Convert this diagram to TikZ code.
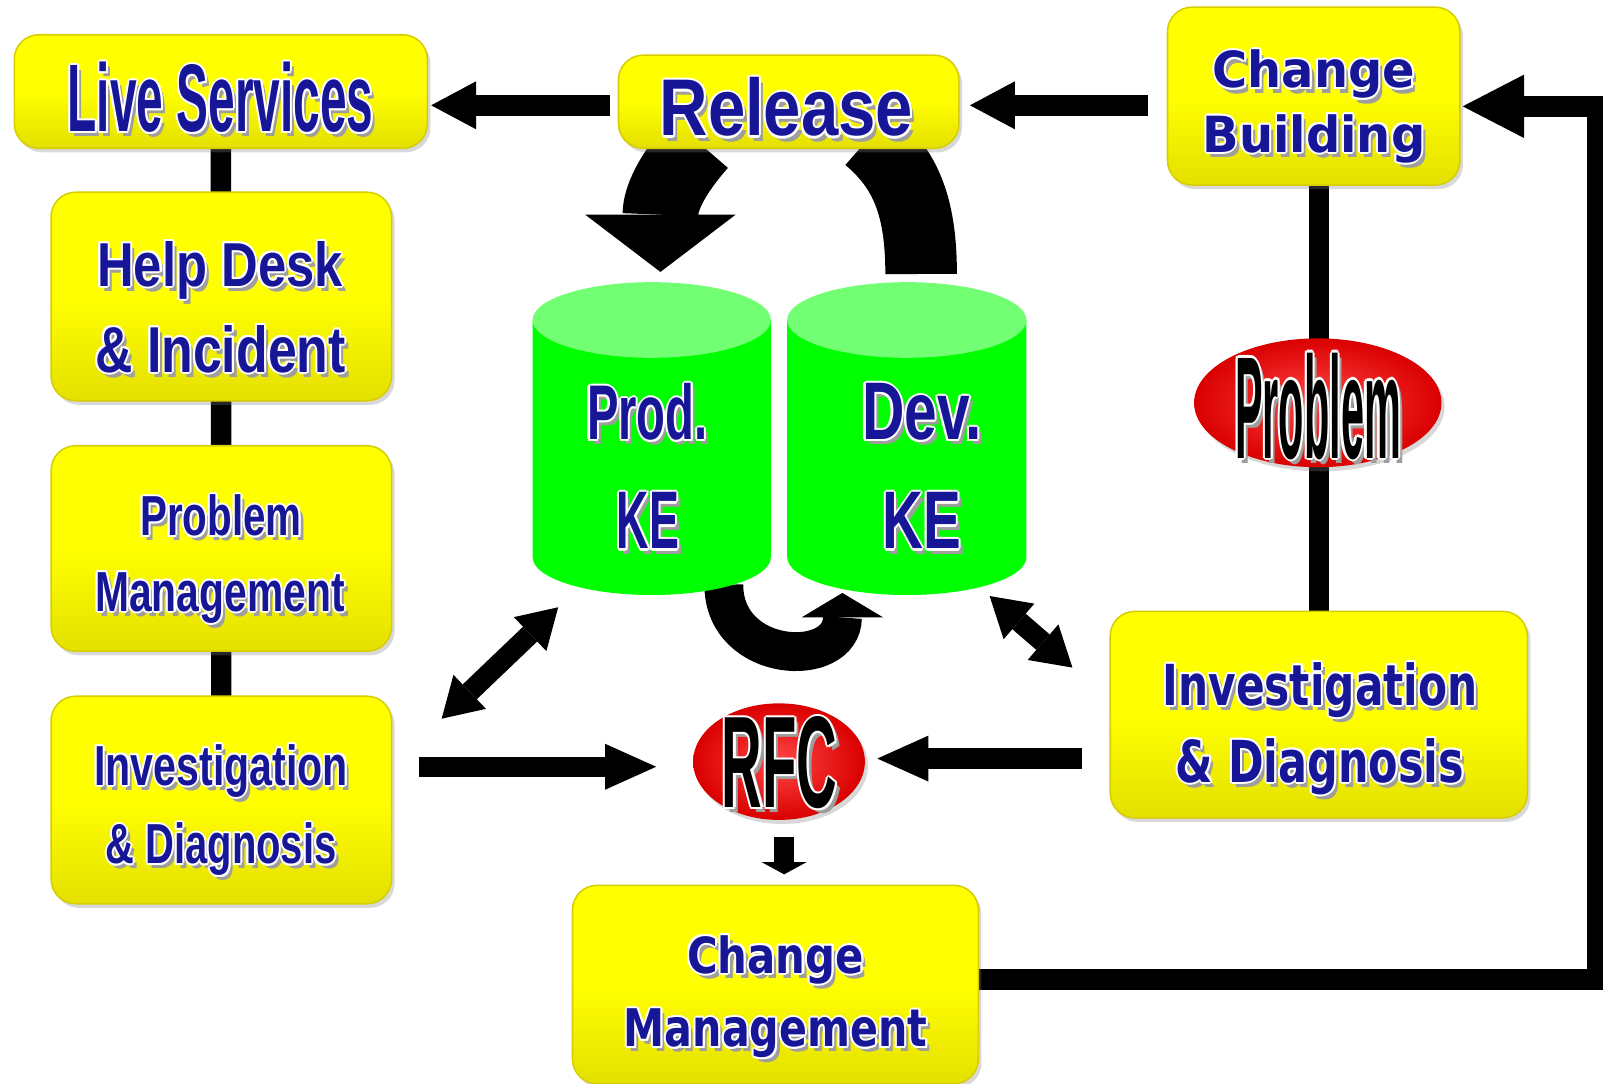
\documentclass[tikz,border=0pt]{standalone}
\usepackage{fontspec}
\setmainfont{Liberation Sans}
\newfontfamily\fA{Liberation Sans}
\newfontfamily\fB{DejaVu Sans}
\usetikzlibrary{arrows.meta,shapes.geometric,shadows,calc}
\pgfdeclarelayer{background}
\pgfsetlayers{background,main}
\definecolor{navy}{RGB}{22,22,150}
\definecolor{ybord}{RGB}{215,205,0}
\definecolor{ybot}{RGB}{228,224,0}
\definecolor{lgreen}{RGB}{115,255,115}
\definecolor{kgreen}{RGB}{0,255,0}
\definecolor{rin}{RGB}{255,70,70}
\definecolor{rout}{RGB}{218,0,0}
\newcommand\fa{\fA\bfseries}
\newcommand\fb{\fB\bfseries}
\newcommand\ow[3]{\makebox[0pt][l]{\hspace*{#1pt}\raisebox{#2pt}{#3}}}
\newcommand\fx[1]{%
  \ow{4}{-5}{\color{black!38}#1}%
  \ow{2}{0}{\color{white}#1}\ow{-2}{0}{\color{white}#1}%
  \ow{0}{2}{\color{white}#1}\ow{0}{-2}{\color{white}#1}%
  \ow{1.4}{1.4}{\color{white}#1}\ow{-1.4}{1.4}{\color{white}#1}%
  \ow{1.4}{-1.4}{\color{white}#1}\ow{-1.4}{-1.4}{\color{white}#1}%
  #1}
\newcommand\T[3]{\fx{\resizebox{#1pt}{#2pt}{#3}}}
\tikzset{
  ybox/.style={rectangle, rounded corners=24pt, draw=ybord, line width=1.5pt,
    top color=yellow, bottom color=ybot, middle color=yellow, inner sep=0pt,
    drop shadow={shadow xshift=3pt, shadow yshift=-4pt, opacity=0.3}},
  redell/.style={ellipse, inner sep=0pt, draw=none, inner color=rin, outer color=rout,
    drop shadow={shadow xshift=3pt, shadow yshift=-4pt, opacity=0.3}},
  lab/.style={anchor=base west, inner sep=0pt, text=navy},
  blab/.style={anchor=base west, inner sep=0pt, text=black},
  bar/.style={line width=20pt, black},
  arrA/.style={line width=20pt, -{Triangle[length=44pt,width=47pt,line width=0pt]}},
  arrB/.style={line width=20pt, -{Triangle[length=50pt,width=45pt,line width=0pt]}},
  arrC/.style={line width=20pt, -{Triangle[length=12pt,width=44pt,line width=0pt]}},
  darr/.style={line width=20pt, {Triangle[length=38pt,width=46pt,line width=0pt]}-{Triangle[length=38pt,width=46pt,line width=0pt]}},
}
\begin{document}
\begin{tikzpicture}[x=1pt,y=-1pt]
\useasboundingbox (0,0) rectangle (1568,1060);
% boxes
\node[ybox, minimum width=404pt, minimum height=111pt] (ls) at (216,89.5) {};
\node[ybox, minimum width=333pt, minimum height=91pt] (rel) at (771.5,99.5) {};
\node[ybox, minimum width=286pt, minimum height=174pt] (cb) at (1285,94) {};
\node[ybox, minimum width=333pt, minimum height=204pt] (hd) at (216.5,290) {};
\node[ybox, minimum width=333pt, minimum height=201pt] (pm) at (216.5,536.5) {};
\node[ybox, minimum width=333pt, minimum height=203pt] (idl) at (216.5,782.5) {};
\node[ybox, minimum width=408pt, minimum height=202pt] (idr) at (1290,699) {};
\node[ybox, minimum width=397pt, minimum height=194pt] (cm) at (758.5,963) {};
\node[redell, minimum width=242pt, minimum height=126pt] (prb) at (1289,394) {};
\node[redell, minimum width=168pt, minimum height=114pt] (rfc) at (762,745) {};
% cylinders
\fill[kgreen] (521,313) -- (521,545) arc[start angle=180, end angle=0, x radius=116.5, y radius=37] -- (754,313) -- cycle;
\fill[lgreen] (637.5,313) ellipse [x radius=116.5, y radius=37];
\fill[kgreen] (770,313) -- (770,545) arc[start angle=180, end angle=0, x radius=117, y radius=37] -- (1004,313) -- cycle;
\fill[lgreen] (887,313) ellipse [x radius=117, y radius=37];
% texts
\node[lab] (lsT) at (66,129) {\T{299}{68}{\fa Live Services}};
\node[lab] (relT) at (645,133) {\T{248}{57}{\fa Release}};
\node[lab] (cbT1) at (1186,86) {\T{198}{37}{\fb Change}};
\node[lab] (cbT2) at (1176,149) {\T{218}{37}{\fb Building}};
\node[lab] (hdT1) at (95,280) {\T{240}{44}{\fa Help Desk}};
\node[lab] (hdT2) at (93,364) {\T{245}{46}{\fa \& Incident}};
\node[lab] (pmT1) at (137,524) {\T{158}{40}{\fa Problem}};
\node[lab] (pmT2) at (93,598) {\T{244}{38}{\fa Management}};
\node[lab] (idlT1) at (92,768) {\T{248}{40}{\fa Investigation}};
\node[lab] (idlT2) at (103,845) {\T{226}{40}{\fa \& Diagnosis}};
\node[lab] (idrT1) at (1137,690) {\T{308}{42}{\fb Investigation}};
\node[lab] (idrT2) at (1150,765) {\T{282}{43}{\fb \& Diagnosis}};
\node[lab] (cmT1) at (672,952) {\T{173}{37}{\fb Change}};
\node[lab] (cmT2) at (610,1024) {\T{297}{37}{\fb Management}};
\node[lab] (prodT1) at (574,430) {\T{118}{55}{\fa Prod.}};
\node[lab] (prodT2) at (603,537) {\T{61}{55}{\fa KE}};
\node[lab] (devT1) at (843,430) {\T{117}{55}{\fa Dev.}};
\node[lab] (devT2) at (863,537) {\T{77}{55}{\fa KE}};
\node[blab] (prbT) at (1208,448) {\T{162}{103}{\fa Problem}};
\node[blab] (rfcT) at (706,790) {\T{113}{89}{\fa RFC}};
% connectors
\begin{pgfonlayer}{background}
\fill[white] (0,0) rectangle (1568,1060);
\draw[bar] (ls.center) -- (idl.center);
\draw[bar] (idr.center) -- (idr.center |- cb.center);
\coordinate (k1) at (1562,958);
\coordinate (k2) at (1562,104);
\draw[bar, line join=miter, -{Triangle[length=60pt,width=62pt,line width=0pt]}] (cm.east |- k1) -- (k1) -- (k2) -- ($(cb.east |- k2)+(2,0)$);
\coordinate (a1) at (597,103);
\draw[arrA] (a1) -- ($(ls.east |- a1)+(3,0)$);
\coordinate (a2) at (1123,103);
\draw[arrA] (a2) -- ($(rel.east |- a2)+(10,0)$);
\coordinate (a4) at (410,750);
\draw[arrB] (a4) -- ($(rfc.west |- a4)+(-36,0)$);
\coordinate (a5) at (1058,742);
\draw[arrB] (a5) -- ($(rfc.east |- a5)+(12,0)$);
\coordinate (a6) at (767,819);
\draw[arrC] (a6) -- ($(a6 |- cm.north)+(0,-10)$);
\coordinate (d1) at (432,703);
\coordinate (d2) at (546,594);
\draw[darr] (d1) -- (d2);
\coordinate (d3) at (968,583);
\coordinate (d4) at (1049,653);
\draw[darr] (d3) -- (d4);
% curved band arrows
\draw[line width=74pt, -{Triangle[length=56pt,width=147pt,line width=0pt]}] (684,140) .. controls (656,172) and (646,195) .. (646,266);
\draw[line width=70pt] (901,268) .. controls (901,200) and (885,165) .. (850,135);
\draw[line width=38pt, -{Triangle[length=24pt,width=80pt,line width=0pt]}] (708,572) .. controls (708,650) and (824,655) .. (824,580);
\end{pgfonlayer}
\end{tikzpicture}
\end{document}
